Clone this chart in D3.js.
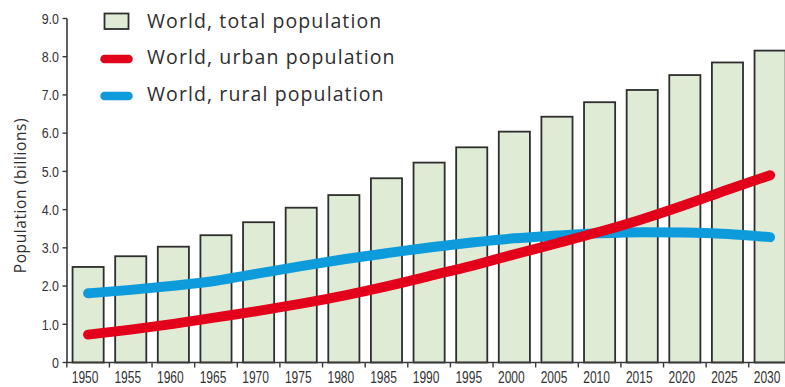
<!DOCTYPE html>
<html>
<head>
<meta charset="utf-8">
<script src="https://cdn.jsdelivr.net/npm/d3@7"></script>
<style>
  html, body { margin: 0; padding: 0; background: #fff; }
  svg { display: block; }
  .tick-label { font-family: "Liberation Sans", Arial, sans-serif; fill: #333; }
  .legend-label, .axis-title { font-family: "Open Sans", "Lato", sans-serif; font-weight: 400; fill: #2e2e2e; }
</style>
</head>
<body>
<svg id="chart" width="785" height="387"></svg>
<script>
// World population, total / urban / rural (billions)
const years = [1950, 1955, 1960, 1965, 1970, 1975, 1980, 1985, 1990, 1995, 2000, 2005, 2010, 2015, 2020, 2025, 2030];
const totalPop = [2.50, 2.78, 3.03, 3.33, 3.67, 4.05, 4.38, 4.82, 5.23, 5.63, 6.04, 6.43, 6.81, 7.13, 7.52, 7.85, 8.16];
const urbanPop = [0.73, 0.86, 1.01, 1.18, 1.35, 1.54, 1.75, 1.99, 2.26, 2.53, 2.83, 3.12, 3.42, 3.75, 4.12, 4.52, 4.90];
const ruralPop = [1.81, 1.90, 2.01, 2.14, 2.33, 2.52, 2.70, 2.86, 3.01, 3.14, 3.25, 3.32, 3.38, 3.41, 3.40, 3.36, 3.28];
const yTickValues = [0, 1, 2, 3, 4, 5, 6, 7, 8, 9];
const yTickLabels = ["0", "1.0", "2.0", "3.0", "4.0", "5.0", "6.0", "7.0", "8.0", "9.0"];
const legendLabels = ["World, total population", "World, urban population", "World, rural population"];
const yTitle = "Population (billions)";

const colors = { barFill: "#dfebd5", barStroke: "#2e2e2e", urban: "#e2001a", rural: "#0d9bdc", axis: "#3a3a3a" };

const svg = d3.select("#chart");
svg.append("rect").attr("width", 785).attr("height", 387).attr("fill", "#fff");

const plot = { left: 67, top: 18.5, bottom: 362.5 };

const x = d3.scaleBand()
  .domain(years)
  .range([66.8, 791.4])
  .paddingInner(0.27)
  .paddingOuter(0.135);
const step = x.step();
const bandStart = d => x(d) - (step - x.bandwidth()) / 2;
const xc = d => x(d) + x.bandwidth() / 2;

const y = d3.scaleLinear().domain([0, 9]).range([plot.bottom, plot.top]);

// Bars: total population
svg.append("g").selectAll("rect")
  .data(years)
  .join("rect")
  .attr("x", d => x(d))
  .attr("y", (d, i) => y(totalPop[i]))
  .attr("width", x.bandwidth())
  .attr("height", (d, i) => y(0) - y(totalPop[i]))
  .attr("fill", colors.barFill)
  .attr("stroke", colors.barStroke)
  .attr("stroke-width", 1.8);

// Urban and rural lines
const line = d3.line()
  .x((d, i) => xc(years[i]))
  .y(d => y(d))
  .curve(d3.curveMonotoneX);

svg.append("path")
  .attr("d", line(ruralPop))
  .attr("fill", "none")
  .attr("stroke", colors.rural)
  .attr("stroke-width", 10)
  .attr("stroke-linecap", "round");

svg.append("path")
  .attr("d", line(urbanPop))
  .attr("fill", "none")
  .attr("stroke", colors.urban)
  .attr("stroke-width", 10)
  .attr("stroke-linecap", "round");

// Y axis
const yAxis = svg.append("g");
yAxis.append("line")
  .attr("x1", plot.left).attr("x2", plot.left)
  .attr("y1", y(9)).attr("y2", y(0))
  .attr("stroke", colors.axis).attr("stroke-width", 1.6);
yAxis.selectAll("line.tick")
  .data(yTickValues)
  .join("line")
  .attr("class", "tick")
  .attr("x1", plot.left - 4.5).attr("x2", plot.left)
  .attr("y1", d => y(d)).attr("y2", d => y(d))
  .attr("stroke", colors.axis).attr("stroke-width", 1.4);
yAxis.selectAll("text")
  .data(yTickValues)
  .join("text")
  .attr("class", "tick-label")
  .attr("transform", d => `translate(${plot.left - 8}, ${y(d)}) scale(0.86, 1)`)
  .attr("dy", "0.36em")
  .attr("text-anchor", "end")
  .attr("font-size", 14.5)
  .text((d, i) => yTickLabels[i]);

// X axis
const xAxis = svg.append("g");
xAxis.append("line")
  .attr("x1", plot.left).attr("x2", 785)
  .attr("y1", y(0)).attr("y2", y(0))
  .attr("stroke", colors.axis).attr("stroke-width", 1.6);
xAxis.selectAll("line.tick")
  .data(years)
  .join("line")
  .attr("class", "tick")
  .attr("x1", d => bandStart(d)).attr("x2", d => bandStart(d))
  .attr("y1", y(0)).attr("y2", y(0) + 5)
  .attr("stroke", colors.axis).attr("stroke-width", 1.4);
xAxis.selectAll("text")
  .data(years)
  .join("text")
  .attr("class", "tick-label")
  .attr("transform", d => `translate(${xc(d) - 3}, 383) scale(0.75, 1)`)
  .attr("text-anchor", "middle")
  .attr("font-size", 16)
  .text(d => d);

// Y axis title
svg.append("text")
  .attr("class", "axis-title")
  .attr("transform", `translate(26, ${(y(9) + y(0)) / 2 + 5}) rotate(-90)`)
  .attr("text-anchor", "middle")
  .attr("font-size", 15.5)
  .attr("letter-spacing", 0.6)
  .text(yTitle);

// Legend
const legend = svg.append("g");
const rowY = [27.5, 63.5, 100.5];
legend.append("rect")
  .attr("x", 104.5).attr("y", 13.5)
  .attr("width", 24).attr("height", 15.5)
  .attr("fill", colors.barFill)
  .attr("stroke", colors.barStroke)
  .attr("stroke-width", 1.8);
[colors.urban, colors.rural].forEach((c, i) => {
  legend.append("line")
    .attr("x1", 104.5).attr("x2", 128.5)
    .attr("y1", rowY[i + 1] - 4.5).attr("y2", rowY[i + 1] - 4.5)
    .attr("stroke", c).attr("stroke-width", 8.5)
    .attr("stroke-linecap", "round");
});
legend.selectAll("text")
  .data(legendLabels)
  .join("text")
  .attr("class", "legend-label")
  .attr("x", 147)
  .attr("y", (d, i) => rowY[i])
  .attr("font-size", 19.5)
  .attr("letter-spacing", 1.1)
  .text(d => d);
</script>
</body>
</html>
